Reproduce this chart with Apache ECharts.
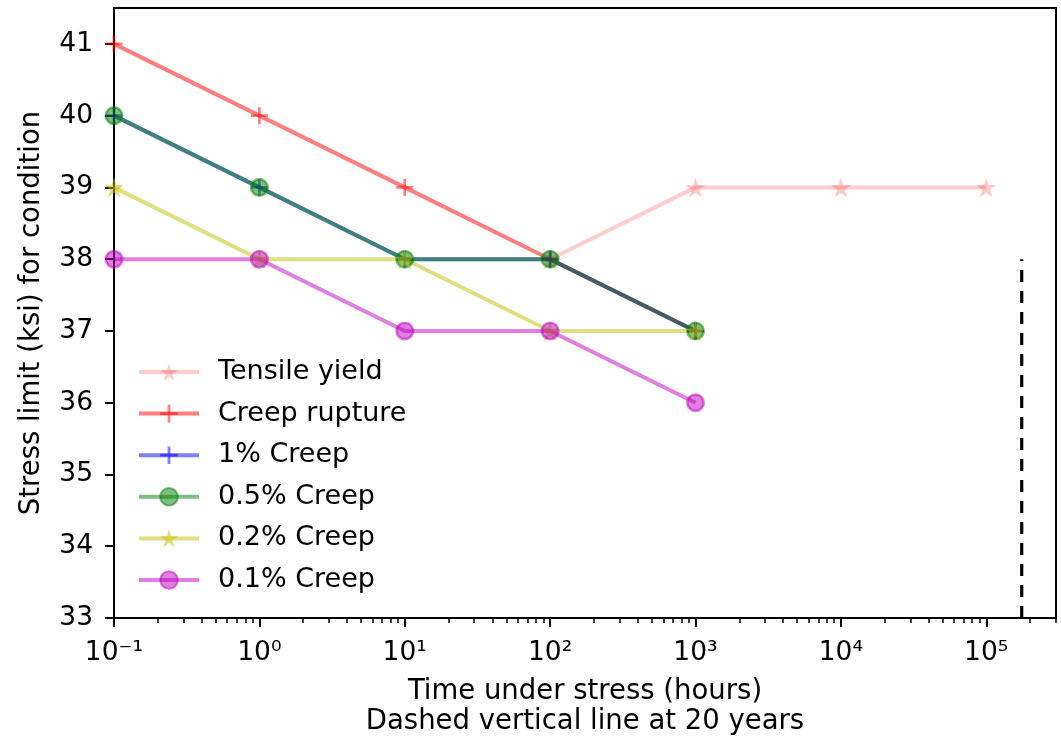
<!DOCTYPE html>
<html>
<head>
<meta charset="utf-8">
<script src="https://cdn.jsdelivr.net/npm/echarts@6/dist/echarts.min.js"></script>
<style>
html,body{margin:0;padding:0;background:#fff;}
#chart{width:1061px;height:737px;}
</style>
</head>
<body>
<div id="chart"></div>
<script>
// ---- data ----
const times = [0.1, 1, 10, 100, 1000];
const tensileYieldTimes = [100, 1000, 10000, 100000];
const tensileYield = [38, 39, 39, 39];
const creepRupture = [41, 40, 39, 38, 37];
const creep1 = [40, 39, 38, 38, 37];
const creep05 = [40, 39, 38, 38, 37];
const creep02 = [39, 38, 38, 37, 37];
const creep01 = [38, 38, 37, 37, 36];
const twentyYearsHours = 20 * 8766;
const dashedLineY = [33, 38];
const xMajorTicks = [0.1, 1, 10, 100, 1000, 10000, 100000];
const xTickLabels = ['10\u207B\u00B9', '10\u2070', '10\u00B9', '10\u00B2', '10\u00B3', '10\u2074', '10\u2075'];
const yTicks = [33, 34, 35, 36, 37, 38, 39, 40, 41];
const seriesNames = ['Tensile yield', 'Creep rupture', '1% Creep', '0.5% Creep', '0.2% Creep', '0.1% Creep'];

const xMin = 0.1, xMax = 301700, yMin = 33, yMax = 41.5;
const xMinorTicks = [];
for (let e = -1; e <= 5; e++) {
  for (let m = 2; m <= 9; m++) {
    const v = m * Math.pow(10, e);
    if (v < xMax) xMinorTicks.push(v);
  }
}

const FONT = 'DejaVu Sans';
const PLUS = 'path://M4.2,0 H5.8 V4.2 H10 V5.8 H5.8 V10 H4.2 V5.8 H0 V4.2 H4.2 Z';
const STAR = 'path://M50,0 L61.2,34.5 L97.6,34.5 L68.2,55.9 L79.4,90.5 L50,69.1 L20.6,90.5 L31.8,55.9 L2.4,34.5 L38.8,34.5 Z';

function pairs(xs, ys) { return xs.map((x, i) => [x, ys[i]]); }

function lineSeries(name, xs, ys, color, symbol, size, border) {
  return {
    name: name,
    type: 'line',
    data: pairs(xs, ys),
    symbol: symbol,
    symbolSize: size,
    showAllSymbol: true,
    lineStyle: { color: color, width: 4 },
    itemStyle: border ? { color: color, borderColor: color, borderWidth: 2.6 } : { color: color, borderWidth: 0 },
    emphasis: { disabled: true },
    animation: false
  };
}

const chart = echarts.init(document.getElementById('chart'), null, { renderer: 'canvas' });
const option = {
  backgroundColor: '#fff',
  animation: false,
  grid: {
    left: 114, right: 5, top: 8, bottom: 119,
    outerBoundsMode: 'none', containLabel: false,
    show: true, borderColor: '#000', borderWidth: 2, backgroundColor: 'transparent'
  },
  legend: {
    orient: 'vertical',
    left: 132,
    top: 352,
    data: seriesNames,
    itemWidth: 60,
    itemHeight: 22,
    itemGap: 11.6,
    lineStyle: { width: 4 },
    textStyle: { fontFamily: FONT, fontSize: 27, color: '#000', lineHeight: 30, padding: [0, 0, 0, 14] },
    selectedMode: false
  },
  xAxis: [
    {
      type: 'log', logBase: 10, min: xMin, max: xMax,
      name: 'Time under stress (hours)\nDashed vertical line at 20 years',
      nameLocation: 'middle', nameGap: 59,
      nameTextStyle: { fontFamily: FONT, fontSize: 27.5, color: '#000', lineHeight: 30, verticalAlign: 'top' },
      axisLine: { show: true, onZero: false, lineStyle: { color: '#000', width: 2 } },
      axisTick: { show: true, length: 9, lineStyle: { color: '#000', width: 2 }, customValues: xMajorTicks },
      axisLabel: {
        show: true, margin: 22, customValues: xMajorTicks,
        fontFamily: FONT, fontSize: 26.5, color: '#000',
        formatter: function (v) {
          const i = xMajorTicks.findIndex(t => Math.abs(Math.log10(t) - Math.log10(v)) < 1e-6);
          return i >= 0 ? xTickLabels[i] : '';
        }
      },
      splitLine: { show: false },
      minorTick: { show: false }
    },
    {
      type: 'log', logBase: 10, min: xMin, max: xMax, position: 'bottom', offset: 0,
      axisLine: { show: false },
      axisTick: { show: true, length: 5, lineStyle: { color: '#000', width: 1.5 }, customValues: xMinorTicks },
      axisLabel: { show: false },
      splitLine: { show: false }
    }
  ],
  yAxis: {
    type: 'value', min: yMin, max: yMax,
    name: 'Stress limit (ksi) for condition',
    nameLocation: 'middle', nameGap: 68, nameRotate: 90,
    nameTextStyle: { fontFamily: FONT, fontSize: 27.5, color: '#000' },
    axisLine: { show: true, onZero: false, lineStyle: { color: '#000', width: 2 } },
    axisTick: { show: true, length: 9, lineStyle: { color: '#000', width: 2 }, customValues: yTicks },
    axisLabel: { show: true, margin: 21, customValues: yTicks, fontFamily: FONT, fontSize: 26.5, color: '#000' },
    splitLine: { show: false }
  },
  series: [
    lineSeries(seriesNames[0], tensileYieldTimes, tensileYield, 'rgba(255,0,0,0.2)', STAR, 20, false),
    lineSeries(seriesNames[1], times, creepRupture, 'rgba(255,0,0,0.5)', PLUS, 17, false),
    lineSeries(seriesNames[2], times, creep1, 'rgba(0,0,255,0.5)', PLUS, 17, false),
    lineSeries(seriesNames[3], times, creep05, 'rgba(0,128,0,0.5)', 'circle', 16.5, true),
    lineSeries(seriesNames[4], times, creep02, 'rgba(191,191,0,0.5)', STAR, 20, false),
    lineSeries(seriesNames[5], times, creep01, 'rgba(191,0,191,0.5)', 'circle', 16.5, true),
    {
      name: 'twenty-years',
      type: 'line',
      data: dashedLineY.map(y => [twentyYearsHours, y]),
      symbol: 'none',
      lineStyle: { color: '#000', width: 3.2, type: [12, 9] },
      emphasis: { disabled: true },
      animation: false,
      z: 3
    }
  ]
};
chart.setOption(option);
</script>
</body>
</html>
